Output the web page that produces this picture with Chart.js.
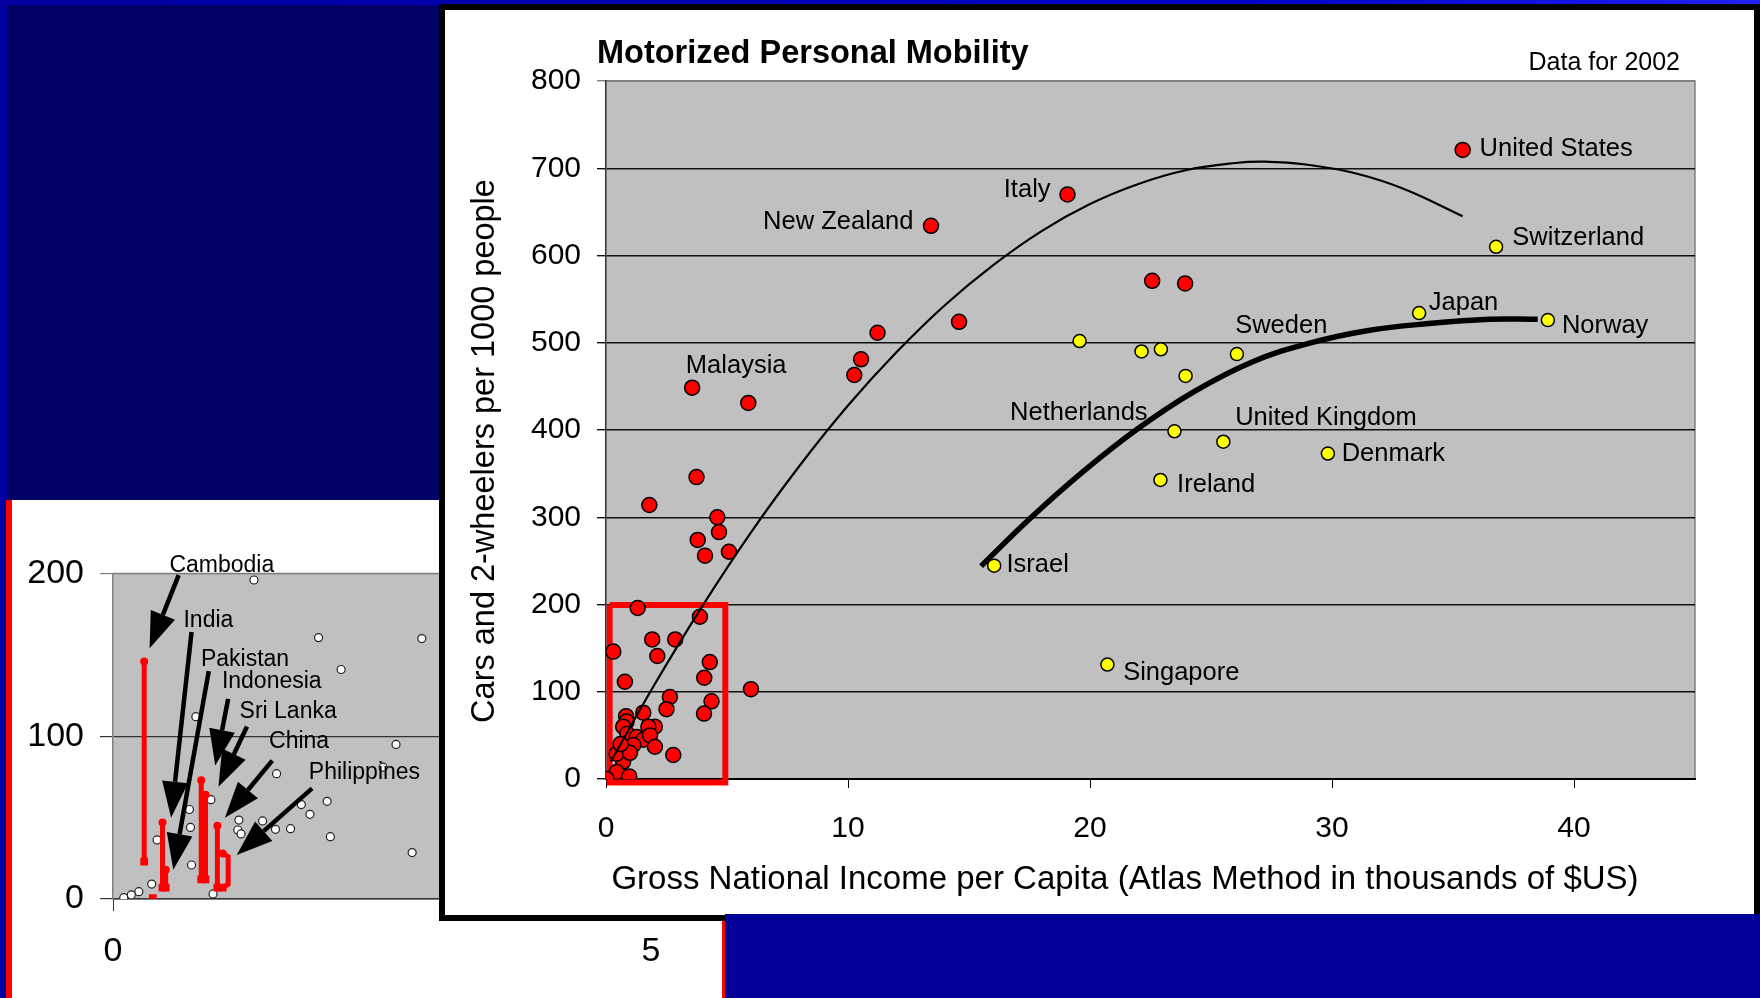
<!DOCTYPE html>
<html>
<head>
<meta charset="utf-8">
<script src="https://cdn.jsdelivr.net/npm/chart.js@4.4.0/dist/chart.umd.min.js"></script>
<style>
  html, body { margin: 0; padding: 0; width: 1760px; height: 998px; overflow: hidden; background: #000066; }
  .abs { position: absolute; }
  #topband { left: 0; top: 0; width: 1760px; height: 5px; background: linear-gradient(to right, #0000a0, #0000c8 70%, #2020f0); }
  #leftband { left: 0; top: 0; width: 7px; height: 998px; background: #0000a0; }
  #insetPanel { left: 6px; top: 500px; width: 719px; height: 498px; background: #fff; border-left: 6px solid #ff0000; border-right: 3px solid #ff0000; box-sizing: border-box; }
  #mainPanel { left: 439px; top: 4px; width: 1321px; height: 917px; background: #fff; border: 6px solid #000; box-sizing: border-box; }
  #bluebox { left: 725px; top: 914px; width: 1035px; height: 84px; background: #000099; }
  canvas { position: absolute; left: 0; top: 0; }
</style>
</head>
<body>
<div id="topband" class="abs"></div>
<div id="leftband" class="abs"></div>
<div id="insetPanel" class="abs"></div>
<canvas id="insetChart" width="1760" height="998"></canvas>
<div id="mainPanel" class="abs"></div>
<div id="bluebox" class="abs"></div>
<canvas id="mainChart" width="1760" height="998"></canvas>
<script>
// ---- main chart data (GNI per capita, thousands $US / vehicles per 1000 people)
var redX = [35.4, 19.07, 13.43, 14.59, 11.22, 10.54, 10.26, 22.57, 23.93, 3.56, 5.88, 3.74, 1.79, 4.6, 4.67, 3.79, 5.08, 4.09,
            1.31, 3.88, 1.91, 2.86, 0.30, 2.12, 4.29, 4.06, 0.78, 5.99, 2.64, 4.36, 2.50, 4.05, 1.54, 0.83, 0.85, 2.02,
            1.75, 0.71, 0.88, 1.27, 1.54, 1.82, 2.02, 1.13, 2.78, 0.71, 0.44, 0.44, 0.96, 0.03, 0.99, 0.6];
var redY = [721, 670, 634, 524, 511.5, 481, 463, 571, 568, 448.5, 431, 346, 314, 300, 283, 274, 260.5, 256,
            196, 186, 160, 160, 146, 141, 134, 116, 111.5, 103, 94, 89, 80, 75, 76, 72, 66, 60,
            60, 60, 52, 48, 45, 50, 37, 39, 27.5, 20, 29, 8, 3, 0, 30, 40];
var yellowX = [36.78, 33.60, 38.92, 19.57, 22.13, 22.93, 26.07, 23.95, 23.49, 25.51, 29.83, 22.91, 16.04, 20.72];
var yellowY = [610, 534, 526, 502, 490, 492.5, 487, 462, 398.5, 386.6, 373, 342.7, 244.5, 131.2];

// trend lines
var trendAllX = [0.2, 2, 4, 6, 8, 10, 12, 14, 16, 18, 20, 22, 24, 26, 27.2, 29, 31, 33, 35.4];
var trendAllY = [20, 108, 199, 283, 359, 428, 489, 543, 589, 628, 659, 682, 698, 706, 707.5, 704, 694, 676, 645];
var trendRichX = [15.5, 17.5, 19.7, 22, 24.3, 26.7, 29, 31.5, 34, 36.5, 38.5];
var trendRichY = [244, 298, 352, 402, 444, 478, 499, 514, 522, 527, 527];

// zoom box marking the inset
var boxX = [0.15, 4.93, 4.93, 0.15, 0.15];
var boxY = [199.5, 199.5, -4, -4, 199.5];

var countryNames = ['United States', 'Switzerland', 'Japan', 'Norway', 'Sweden', 'Netherlands', 'United Kingdom',
                    'Denmark', 'Ireland', 'Israel', 'Singapore', 'Italy', 'New Zealand', 'Malaysia'];
var countryX = [36.1, 37.45, 34.0, 39.5, 26.0, 22.38, 26.0, 30.4, 23.6, 16.55, 21.37, 18.37, 12.7, 3.3];
var countryY = [721.7, 620, 545.6, 519.8, 519.8, 419.5, 414, 373, 337, 245.7, 121, 675, 638, 473];
var countryAlign = ['left', 'left', 'left', 'left', 'left', 'right', 'left', 'left', 'left', 'left', 'left', 'right', 'right', 'left'];

var xTicksMain = [0, 10, 20, 30, 40];
var yTicksMain = [0, 100, 200, 300, 400, 500, 600, 700, 800];

// ---- inset data (low income countries)
var whiteX = [1.31, 1.91, 2.87, 2.12, 0.77, 2.63, 1.52, 2.51, 1.99, 1.75, 1.83, 0.91, 0.71, 1.17, 1.39, 0.72, 1.16, 1.19,
              1.51, 1.65, 2.02, 2.78, 0.41, 0.73, 0.36, 0.24, 0.17, 0.10, 0.93];
var whiteY = [196, 160.6, 160, 141, 112, 95, 77, 81, 60, 58, 52, 61, 55, 48.5, 48, 44, 42.4, 40,
              42.8, 43.2, 38.3, 28.5, 36.3, 20.9, 9.2, 4.5, 2.5, 0.8, 3.1];
var insetBarX = [[0.29, 0.29], [0.46, 0.46], [0.49, 0.49], [0.82, 0.82], [0.86, 0.86], [0.97, 0.97], [1.02, 1.07, 1.07, 1.02], [0.37]];
var insetBarY = [[146, 23], [47, 7], [18, 7], [73, 12], [64, 12], [45, 7], [28, 26, 9, 7], [0.5]];

var insetNames = ['Cambodia', 'India', 'Pakistan', 'Indonesia', 'Sri Lanka', 'China', 'Philippines'];
var insetLabelX = [0.524, 0.655, 0.817, 1.012, 1.176, 1.45, 1.82];
var insetLabelY = [205, 171, 147, 133.5, 115, 96.7, 77.8];
var arrowFromX = [0.61, 0.73, 0.89, 1.07, 1.245, 1.48, 1.85];
var arrowFromY = [199, 164, 140, 123, 106, 85, 68];
var arrowToX = [0.34, 0.54, 0.56, 0.95, 0.98, 1.04, 1.15];
var arrowToY = [154, 50, 18, 82, 69, 50, 27];

var FONT = "'Liberation Sans', Arial, sans-serif";

function pts(xs, ys) {
    return xs.map(function (x, i) { return { x: x, y: ys[i] }; });
}

var plotBg = {
    id: 'plotBg',
    beforeDraw: function (chart) {
        var a = chart.chartArea, ctx = chart.ctx;
        ctx.save();
        ctx.fillStyle = '#c0c0c0';
        ctx.fillRect(a.left, a.top, a.right - a.left, a.bottom - a.top);
        ctx.strokeStyle = '#808080';
        ctx.lineWidth = 1.5;
        ctx.beginPath();
        ctx.moveTo(a.left, a.top);
        ctx.lineTo(a.right, a.top);
        ctx.lineTo(a.right, a.bottom);
        ctx.stroke();
        ctx.restore();
    }
};

var mainText = {
    id: 'mainText',
    afterDraw: function (chart) {
        var ctx = chart.ctx, xs = chart.scales.x, ys = chart.scales.y;
        ctx.save();
        ctx.fillStyle = '#000';
        ctx.textBaseline = 'middle';
        ctx.font = '25.5px ' + FONT;
        countryNames.forEach(function (name, i) {
            ctx.textAlign = countryAlign[i];
            ctx.fillText(name, xs.getPixelForValue(countryX[i]), ys.getPixelForValue(countryY[i]));
        });
        // titles
        ctx.textBaseline = 'alphabetic';
        ctx.textAlign = 'left';
        ctx.font = 'bold 32.5px ' + FONT;
        ctx.fillText('Motorized Personal Mobility', 597, 63);
        ctx.textAlign = 'right';
        ctx.font = '25px ' + FONT;
        ctx.fillText('Data for 2002', 1680, 70);
        // axis titles
        ctx.textBaseline = 'middle';
        ctx.textAlign = 'center';
        ctx.font = '33px ' + FONT;
        ctx.fillText('Gross National Income per Capita (Atlas Method in thousands of $US)', 1125, 880);
        ctx.font = '32.5px ' + FONT;
        ctx.translate(485, 451);
        ctx.rotate(-Math.PI / 2);
        ctx.fillText('Cars and 2-wheelers per 1000 people', 0, 0);
        ctx.restore();
    }
};

var insetText = {
    id: 'insetText',
    afterDatasetsDraw: function (chart) {
        var ctx = chart.ctx, xs = chart.scales.x, ys = chart.scales.y;
        ctx.save();
        ctx.fillStyle = '#000';
        ctx.strokeStyle = '#000';
        arrowFromX.forEach(function (fx, i) {
            var x0 = xs.getPixelForValue(fx), y0 = ys.getPixelForValue(arrowFromY[i]);
            var x1 = xs.getPixelForValue(arrowToX[i]), y1 = ys.getPixelForValue(arrowToY[i]);
            var ang = Math.atan2(y1 - y0, x1 - x0);
            var hl = 36, hw = 13;
            var bx = x1 - hl * Math.cos(ang), by = y1 - hl * Math.sin(ang);
            ctx.lineWidth = 4.5;
            ctx.beginPath();
            ctx.moveTo(x0, y0);
            ctx.lineTo(bx, by);
            ctx.stroke();
            ctx.beginPath();
            ctx.moveTo(x1, y1);
            ctx.lineTo(bx + hw * Math.sin(ang), by - hw * Math.cos(ang));
            ctx.lineTo(bx - hw * Math.sin(ang), by + hw * Math.cos(ang));
            ctx.closePath();
            ctx.fill();
        });
        ctx.font = '23px ' + FONT;
        ctx.textAlign = 'left';
        ctx.textBaseline = 'middle';
        insetNames.forEach(function (name, i) {
            ctx.fillText(name, xs.getPixelForValue(insetLabelX[i]), ys.getPixelForValue(insetLabelY[i]));
        });
        ctx.restore();
    }
};

// ---------------- inset chart
var insetSets = insetBarX.map(function (bx, i) {
    var n = bx.length;
    return {
        data: pts(bx, insetBarY[i]),
        showLine: n > 1,
        borderColor: '#ff0000',
        borderWidth: 5,
        backgroundColor: '#ff0000',
        tension: 0,
        pointStyle: bx.map(function (v, j) { return j === n - 1 ? 'rect' : 'circle'; }),
        pointRadius: bx.map(function (v, j) { return j === n - 1 ? 5.5 : (j === 0 ? 4 : 0); }),
        pointBorderWidth: 0,
        order: 1
    };
});
insetSets.push({
    data: pts(whiteX, whiteY),
    backgroundColor: '#ffffff',
    borderColor: '#222',
    borderWidth: 1.2,
    pointRadius: 4,
    order: 2
});

new Chart(document.getElementById('insetChart'), {
    type: 'scatter',
    data: { datasets: insetSets },
    plugins: [plotBg, insetText],
    options: {
        responsive: false,
        animation: false,
        devicePixelRatio: 1,
        layout: { padding: { top: 573.5, right: 1060, bottom: 0, left: 0 } },
        plugins: { legend: { display: false }, tooltip: { enabled: false } },
        scales: {
            x: {
                type: 'linear', min: 0, max: 5.455,
                afterFit: function (s) { s.height = 99; },
                ticks: { stepSize: 5, includeBounds: false, color: '#000', padding: 20, font: { family: FONT, size: 34 } },
                grid: { drawOnChartArea: false, tickLength: 12, color: '#333' },
                border: { color: '#333', width: 1.5 }
            },
            y: {
                type: 'linear', min: 0, max: 200,
                afterFit: function (s) { s.width = 113; },
                ticks: { stepSize: 100, color: '#000', padding: 16, font: { family: FONT, size: 34 } },
                grid: {
                    tickLength: 13,
                    color: function (c) { return c.tick && c.tick.value === 200 ? '#808080' : '#333'; },
                    lineWidth: 1.2
                },
                border: { color: '#808080', width: 1.5 }
            }
        }
    }
});

// ---------------- main chart
new Chart(document.getElementById('mainChart'), {
    type: 'scatter',
    data: {
        datasets: [{
            label: 'Trend all',
            data: pts(trendAllX, trendAllY),
            showLine: true, borderColor: '#000', borderWidth: 2.2, pointRadius: 0,
            tension: 0.4, order: 1
        }, {
            label: 'Trend rich',
            data: pts(trendRichX, trendRichY),
            showLine: true, borderColor: '#000', borderWidth: 5.5, pointRadius: 0,
            tension: 0.4, order: 1
        }, {
            label: 'High income',
            data: pts(yellowX, yellowY),
            backgroundColor: '#ffff00', borderColor: '#000', borderWidth: 1.5, pointRadius: 6.5, order: 2
        }, {
            label: 'Others',
            data: pts(redX, redY),
            backgroundColor: '#ff0000', borderColor: '#000', borderWidth: 1.5, pointRadius: 7.5, order: 3
        }, {
            label: 'Box',
            data: pts(boxX, boxY),
            showLine: true, borderColor: '#ff0000', borderWidth: 6, pointRadius: 0, tension: 0,
            clip: false, order: 5
        }]
    },
    plugins: [plotBg, mainText],
    options: {
        responsive: false,
        animation: false,
        devicePixelRatio: 1,
        layout: { padding: { top: 81, right: 65, bottom: 0, left: 0 } },
        plugins: { legend: { display: false }, tooltip: { enabled: false } },
        scales: {
            x: {
                type: 'linear', min: 0, max: 45,
                afterFit: function (s) { s.height = 219; },
                afterBuildTicks: function (s) { s.ticks = xTicksMain.map(function (v) { return { value: v }; }); },
                ticks: { color: '#000', padding: 23, font: { family: FONT, size: 30 } },
                grid: { drawOnChartArea: false, tickLength: 9, color: '#000' },
                border: { color: '#000', width: 2 }
            },
            y: {
                type: 'linear', min: 0, max: 800,
                afterFit: function (s) { s.width = 606; },
                afterBuildTicks: function (s) { s.ticks = yTicksMain.map(function (v) { return { value: v }; }); },
                ticks: { color: '#000', padding: 16, font: { family: FONT, size: 30 } },
                grid: {
                    tickLength: 9,
                    color: function (c) { return c.tick && c.tick.value === 800 ? '#808080' : '#111'; },
                    lineWidth: 1.4
                },
                border: { color: '#333', width: 1.5 }
            }
        }
    }
});
</script>
</body>
</html>
